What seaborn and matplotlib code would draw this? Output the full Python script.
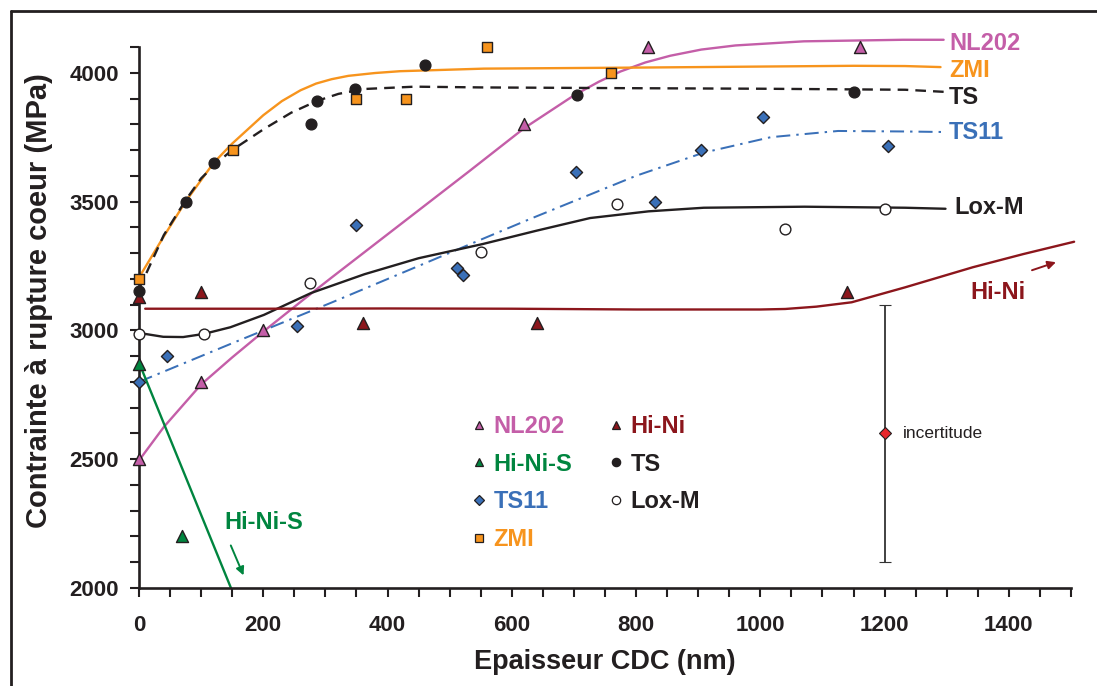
import matplotlib
matplotlib.use("Agg")
import matplotlib.pyplot as plt
from matplotlib.lines import Line2D
from matplotlib.ticker import MultipleLocator
import seaborn as sns

# measured points (thickness nm, core rupture stress MPa)
nl202_x = [0, 100, 200, 620, 820, 1160]
nl202_y = [2500, 2800, 3000, 3800, 4100, 4100]
hini_x = [0, 100, 360, 640, 1140]
hini_y = [3130, 3150, 3030, 3030, 3150]
hinis_x = [0, 70]
hinis_y = [2870, 2200]
ts_x = [0, 75, 120, 277, 287, 347, 460, 705, 1150]
ts_y = [3152, 3500, 3650, 3800, 3890, 3938, 4030, 3915, 3925]
ts11_x = [0, 45, 255, 350, 512, 522, 703, 830, 904, 1005, 1206]
ts11_y = [2800, 2900, 3015, 3410, 3241, 3214, 3615, 3498, 3700, 3829, 3716]
zmi_x = [0, 151, 350, 430, 560, 760]
zmi_y = [3200, 3700, 3900, 3900, 4100, 4000]
loxm_x = [0, 105, 275, 550, 770, 1040, 1200]
loxm_y = [2985, 2985, 3185, 3303, 3490, 3395, 3470]

# fitted trend curves
nl202_fit_x = [0, 40, 100, 150, 200, 265, 310, 420, 530, 620, 700, 740, 775, 815, 855, 905, 960, 1070, 1230, 1295]
nl202_fit_y = [2495, 2625, 2790, 2895, 2995, 3120, 3205, 3410, 3615, 3785, 3912, 3965, 4005, 4040, 4066, 4090, 4106, 4122, 4128, 4128]
zmi_fit_x = [0, 40, 75, 120, 150, 200, 230, 260, 285, 310, 337, 380, 420, 555, 800, 1000, 1150, 1233, 1290]
zmi_fit_y = [3205, 3365, 3500, 3650, 3725, 3835, 3890, 3932, 3958, 3975, 3988, 3999, 4006, 4016, 4020, 4024, 4027, 4026, 4022]
ts_fit_x = [0, 40, 75, 100, 125, 150, 200, 245, 287, 321, 363, 444, 553, 800, 1000, 1233, 1295]
ts_fit_y = [3160, 3370, 3505, 3590, 3650, 3700, 3780, 3845, 3891, 3918, 3937, 3946, 3943, 3940, 3938, 3934, 3926]
ts11_fit_x = [0, 150, 310, 450, 553, 629, 800, 909, 1017, 1125, 1233, 1295]
ts11_fit_y = [2800, 2950, 3108, 3250, 3355, 3432, 3600, 3690, 3750, 3774, 3772, 3770]
loxm_fit_x = [0, 39, 71, 104, 147, 201, 277, 363, 450, 553, 640, 726, 820, 909, 1071, 1233, 1298]
loxm_fit_y = [2990, 2975, 2974, 2986, 3012, 3060, 3145, 3218, 3280, 3335, 3387, 3436, 3462, 3476, 3480, 3476, 3472]
hini_fit_x = [10, 200, 400, 600, 800, 1000, 1040, 1090, 1147, 1233, 1342, 1423, 1505]
hini_fit_y = [3084, 3084, 3085, 3084, 3081, 3081, 3083, 3092, 3109, 3167, 3245, 3296, 3344]
hinis_fit_x = [0, 148]
hinis_fit_y = [2875, 2000]

# uncertainty bar
unc_x, unc_y, unc_err = 1200, 2600, 500

PINK = "#c45ea8"
ORANGE = "#f7941d"
DARKRED = "#8c161c"
GREEN = "#00853f"
BLUE = "#3a70b8"
BLACK = "#231f20"

sns.set_theme(style="ticks")
plt.rcParams["font.family"] = ["Liberation Sans", "DejaVu Sans"]
plt.rcParams["font.weight"] = "bold"

fig = plt.figure(figsize=(10.97, 6.86), dpi=100)
ax = fig.add_axes([0.1267, 0.1429, 0.8496, 0.7886])

lw = 1.7
sns.lineplot(x=nl202_fit_x, y=nl202_fit_y, ax=ax, color=PINK, lw=lw, sort=False, clip_on=False)
sns.lineplot(x=zmi_fit_x, y=zmi_fit_y, ax=ax, color=ORANGE, lw=lw, sort=False)
sns.lineplot(x=ts_fit_x, y=ts_fit_y, ax=ax, color=BLACK, lw=lw, sort=False, linestyle=(0, (4.5, 3)))
sns.lineplot(x=ts11_fit_x, y=ts11_fit_y, ax=ax, color=BLUE, lw=lw * 0.85, sort=False,
             linestyle=(0, (7, 3, 1.2, 3)))
sns.lineplot(x=loxm_fit_x, y=loxm_fit_y, ax=ax, color=BLACK, lw=lw, sort=False)
sns.lineplot(x=hini_fit_x, y=hini_fit_y, ax=ax, color=DARKRED, lw=lw, sort=False, clip_on=False)
sns.lineplot(x=hinis_fit_x, y=hinis_fit_y, ax=ax, color=GREEN, lw=lw, sort=False)

mk = dict(edgecolor=BLACK, linewidth=1.0, clip_on=False, zorder=5, ax=ax, legend=False)
sns.scatterplot(x=nl202_x, y=nl202_y, marker="^", s=75, color=PINK, **mk)
sns.scatterplot(x=hini_x, y=hini_y, marker="^", s=75, color=DARKRED, **mk)
sns.scatterplot(x=hinis_x, y=hinis_y, marker="^", s=75, color=GREEN, **mk)
sns.scatterplot(x=ts_x, y=ts_y, marker="o", s=60, color=BLACK, **mk)
sns.scatterplot(x=ts11_x, y=ts11_y, marker="D", s=38, color=BLUE, **mk)
sns.scatterplot(x=zmi_x, y=zmi_y, marker="s", s=45, color=ORANGE, **mk)
sns.scatterplot(x=loxm_x, y=loxm_y, marker="o", s=60, color="white", **mk)

ax.errorbar(unc_x, unc_y, yerr=unc_err, fmt="D", color="#333333", ms=6.5, mfc="#e8262b",
            mec=BLACK, mew=0.8, elinewidth=1.3, capsize=4.5, capthick=1.3, zorder=6)
ax.text(1230, unc_y, "incertitude", fontsize=12.5, fontweight="normal", color=BLACK,
        va="center", ha="left")

# curve end labels
lab = dict(fontsize=17, fontweight="bold", va="center", ha="left", clip_on=False)
ax.text(1304, 4112, "NL202", color=PINK, **lab)
ax.text(1304, 4010, "ZMI", color=ORANGE, **lab)
ax.text(1304, 3905, "TS", color=BLACK, **lab)
ax.text(1304, 3767, "TS11", color=BLUE, **lab)
ax.text(1312, 3475, "Lox-M", color=BLACK, **lab)
ax.text(1383, 3146, "Hi-Ni", color=DARKRED, fontsize=17, fontweight="bold", ha="center", va="center")
ax.text(201, 2255, "Hi-Ni-S", color=GREEN, fontsize=17, fontweight="bold", ha="center", va="center")

ax.annotate("", xy=(1480, 3268), xytext=(1433, 3230),
            arrowprops=dict(arrowstyle="-|>", color=DARKRED, lw=1.4, mutation_scale=12))
ax.annotate("", xy=(170, 2039), xytext=(146, 2175),
            arrowprops=dict(arrowstyle="-|>", color=GREEN, lw=1.4, mutation_scale=12))

# legend
names = ["NL202", "Hi-Ni-S", "TS11", "ZMI", "Hi-Ni", "TS", "Lox-M"]
markers = ["^", "^", "D", "s", "^", "o", "o"]
faces = [PINK, GREEN, BLUE, ORANGE, DARKRED, BLACK, "white"]
texts = [PINK, GREEN, BLUE, ORANGE, DARKRED, BLACK, BLACK]
handles = [Line2D([], [], marker=m, linestyle="none", markersize=6 if m != "D" else 5,
                  markerfacecolor=f, markeredgecolor=BLACK, markeredgewidth=0.9)
           for m, f in zip(markers, faces)]
ax.legend(handles, names, ncol=2, frameon=False, labelcolor=texts,
          prop=dict(size=17, weight="bold"), handlelength=0.8, handletextpad=0.22,
          columnspacing=1.45, labelspacing=0.62, borderpad=0, borderaxespad=0,
          loc="upper left", bbox_to_anchor=(469.6 / 1097, 1 - 415 / 686),
          bbox_transform=fig.transFigure)

ax.set_xlim(0, 1500)
ax.set_ylim(2000, 4100)
ax.xaxis.set_major_locator(MultipleLocator(200))
ax.xaxis.set_minor_locator(MultipleLocator(50))
ax.yaxis.set_major_locator(MultipleLocator(500))
ax.yaxis.set_minor_locator(MultipleLocator(100))
ax.tick_params(which="both", direction="out", length=6.5, width=1.5, color=BLACK)
ax.tick_params(axis="x", which="major", pad=13, labelsize=16)
ax.tick_params(axis="y", which="major", pad=8, labelsize=16)
for t in ax.get_xticklabels() + ax.get_yticklabels():
    t.set_fontweight("bold")
    t.set_color(BLACK)
sns.despine(ax=ax)
for s in ["left", "bottom"]:
    ax.spines[s].set_linewidth(1.9)
    ax.spines[s].set_color(BLACK)

ax.set_xlabel("Epaisseur CDC (nm)", fontsize=19.5, fontweight="bold", color=BLACK, labelpad=9)
ax.set_ylabel("Contrainte à rupture coeur (MPa)", fontsize=21, fontweight="bold", color=BLACK)
ax.yaxis.set_label_coords(-(139 - 53) / 932, 0.5305)

# outer frame (left and top edges)
fig.add_artist(Line2D([11 / 1097, 11 / 1097], [0, 1 - 11 / 686], color=BLACK, lw=2,
                      transform=fig.transFigure))
fig.add_artist(Line2D([11 / 1097, 1], [1 - 11 / 686, 1 - 11 / 686], color=BLACK, lw=2,
                      transform=fig.transFigure))

fig.savefig("out.png", dpi=100)
